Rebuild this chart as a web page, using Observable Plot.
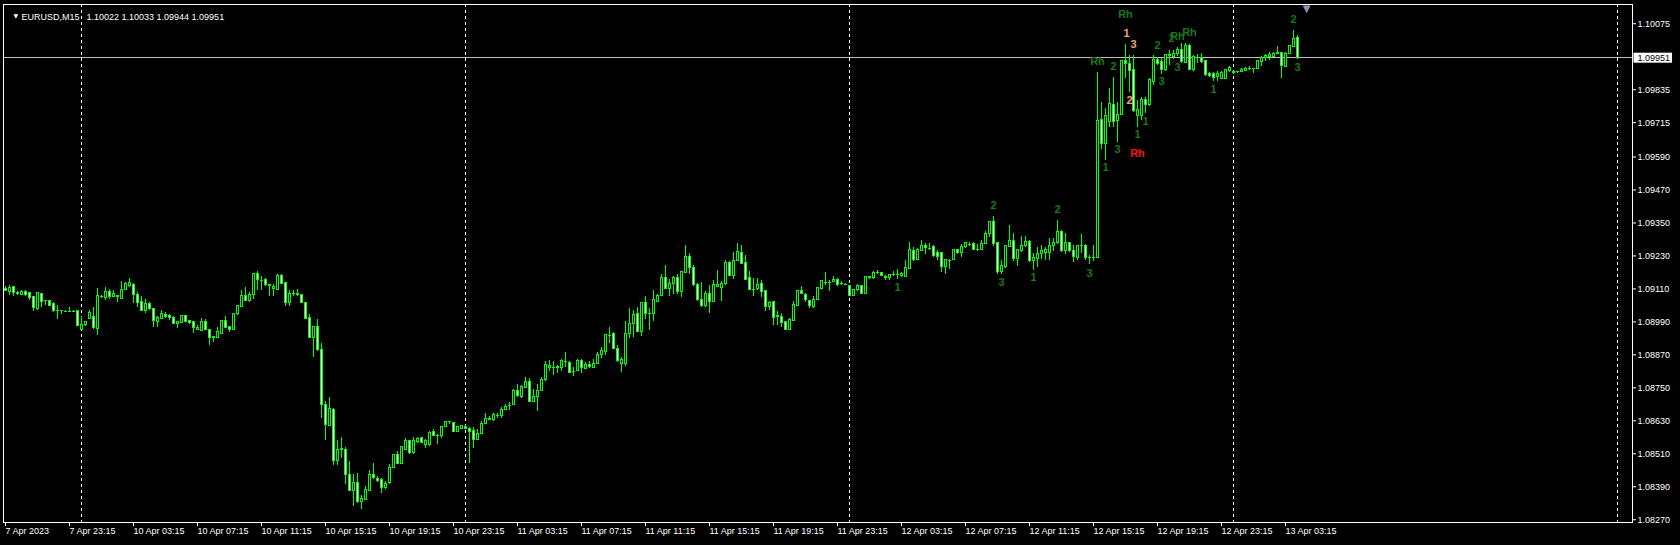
<!DOCTYPE html>
<html><head><meta charset="utf-8">
<script src="https://cdn.jsdelivr.net/npm/d3@7"></script>
<script src="https://cdn.jsdelivr.net/npm/@observablehq/plot@0.6"></script>
<style>html,body{margin:0;padding:0;background:#000;overflow:hidden}</style>
</head><body><div id="chart"></div>
<script>
const symbol = "EURUSD", timeframe = "M15";

const opens = [
1.09111,1.09098,1.09116,1.09095,1.09089,1.09100,1.09094,1.09081,1.09038,1.09090,
1.09065,1.09066,1.09056,1.09030,1.09030,1.09028,1.09028,1.09028,1.09028,1.08959,
1.08977,1.09002,1.09006,1.08965,1.09082,1.09078,1.09099,1.09081,1.09083,1.09075,
1.09106,1.09120,1.09123,1.09088,1.09061,1.09031,1.09055,1.09036,1.08991,1.09002,
1.09015,1.09010,1.09003,1.08981,1.08986,1.09011,1.08993,1.08988,1.08959,1.08957,
1.08989,1.08959,1.08932,1.08932,1.08947,1.08993,1.08971,1.08960,1.09017,1.09045,
1.09084,1.09066,1.09087,1.09163,1.09142,1.09143,1.09123,1.09108,1.09106,1.09157,
1.09131,1.09058,1.09092,1.09090,1.09088,1.09059,1.09003,1.08932,1.08971,1.08886,
1.08689,1.08612,1.08670,1.08484,1.08523,1.08525,1.08433,1.08375,1.08405,1.08334,
1.08342,1.08376,1.08433,1.08420,1.08415,1.08385,1.08403,1.08458,1.08506,1.08472,
1.08525,1.08555,1.08513,1.08553,1.08567,1.08543,1.08541,1.08588,1.08576,1.08575,
1.08609,1.08626,1.08622,1.08590,1.08600,1.08609,1.08602,1.08594,1.08560,1.08582,
1.08620,1.08634,1.08633,1.08650,1.08649,1.08669,1.08684,1.08689,1.08740,1.08717,
1.08750,1.08773,1.08699,1.08716,1.08738,1.08779,1.08823,1.08823,1.08824,1.08823,
1.08845,1.08842,1.08811,1.08811,1.08849,1.08820,1.08832,1.08823,1.08837,1.08871,
1.08881,1.08942,1.08945,1.08893,1.08837,1.08837,1.08947,1.08981,1.09017,1.08953,
1.09057,1.09020,1.09020,1.09064,1.09083,1.09149,1.09111,1.09127,1.09149,1.09100,
1.09169,1.09227,1.09185,1.09124,1.09071,1.09047,1.09090,1.09064,1.09117,1.09115,
1.09127,1.09205,1.09157,1.09212,1.09240,1.09203,1.09149,1.09109,1.09111,1.09127,
1.09101,1.09045,1.09061,1.09008,1.09009,1.08988,1.08960,1.08993,1.09049,1.09103,
1.09088,1.09066,1.09044,1.09071,1.09111,1.09135,1.09135,1.09135,1.09141,1.09128,
1.09127,1.09120,1.09085,1.09106,1.09120,1.09091,1.09149,1.09149,1.09168,1.09168,
1.09155,1.09149,1.09161,1.09161,1.09156,1.09154,1.09184,1.09248,1.09216,1.09249,
1.09266,1.09258,1.09261,1.09242,1.09240,1.09188,1.09214,1.09214,1.09251,1.09239,
1.09261,1.09273,1.09275,1.09255,1.09252,1.09273,1.09309,1.09353,1.09276,1.09173,
1.09190,1.09264,1.09284,1.09218,1.09248,1.09265,1.09281,1.09211,1.09220,1.09237,
1.09239,1.09239,1.09266,1.09278,1.09318,1.09247,1.09277,1.09249,1.09222,1.09267,
1.09267,1.09222,1.09221,1.09221,1.09723,1.09638,1.09717,1.09780,1.09721,1.09744,
1.09940,1.09930,1.09906,1.09739,1.09741,1.09798,1.09778,1.09863,1.09944,1.09935,
1.09906,1.09957,1.09954,1.09966,1.09979,1.09932,1.09993,1.09906,1.09951,1.09952,
1.09938,1.09891,1.09893,1.09881,1.09875,1.09875,1.09903,1.09899,1.09898,1.09901,
1.09904,1.09912,1.09912,1.09912,1.09936,1.09951,1.09954,1.09954,1.09966,1.09970,
1.09918,1.09966,1.09991,1.10022];

const highs = [
1.09118,1.09121,1.09117,1.09100,1.09103,1.09103,1.09096,1.09084,1.09096,1.09093,
1.09068,1.09066,1.09060,1.09051,1.09033,1.09030,1.09044,1.09030,1.09030,1.09011,
1.08991,1.09030,1.09042,1.09110,1.09087,1.09114,1.09109,1.09103,1.09084,1.09137,
1.09133,1.09148,1.09129,1.09096,1.09084,1.09070,1.09060,1.09036,1.09011,1.09030,
1.09026,1.09017,1.09008,1.08993,1.09015,1.09015,1.08996,1.08993,1.08977,1.09003,
1.08997,1.08959,1.08938,1.08969,1.08996,1.09011,1.08975,1.09020,1.09051,1.09103,
1.09115,1.09096,1.09167,1.09172,1.09154,1.09149,1.09127,1.09125,1.09163,1.09163,
1.09133,1.09103,1.09103,1.09109,1.09090,1.09060,1.09017,1.08975,1.08999,1.08913,
1.08701,1.08716,1.08674,1.08557,1.08570,1.08533,1.08482,1.08433,1.08439,1.08360,
1.08391,1.08448,1.08476,1.08427,1.08421,1.08409,1.08470,1.08509,1.08518,1.08537,
1.08567,1.08559,1.08571,1.08570,1.08571,1.08561,1.08592,1.08598,1.08579,1.08610,
1.08628,1.08628,1.08624,1.08610,1.08613,1.08612,1.08606,1.08604,1.08598,1.08628,
1.08656,1.08646,1.08658,1.08658,1.08677,1.08689,1.08697,1.08744,1.08762,1.08759,
1.08789,1.08784,1.08744,1.08764,1.08789,1.08847,1.08849,1.08847,1.08831,1.08853,
1.08877,1.08847,1.08825,1.08853,1.08853,1.08841,1.08845,1.08853,1.08877,1.08898,
1.08942,1.08971,1.08953,1.08905,1.08859,1.08993,1.09039,1.09032,1.09044,1.09062,
1.09081,1.09039,1.09103,1.09088,1.09161,1.09197,1.09145,1.09154,1.09163,1.09173,
1.09267,1.09240,1.09197,1.09129,1.09135,1.09100,1.09123,1.09141,1.09178,1.09137,
1.09214,1.09210,1.09241,1.09276,1.09267,1.09230,1.09172,1.09149,1.09149,1.09141,
1.09105,1.09066,1.09066,1.09027,1.09020,1.08993,1.09003,1.09064,1.09105,1.09117,
1.09094,1.09068,1.09081,1.09115,1.09141,1.09168,1.09141,1.09154,1.09149,1.09137,
1.09129,1.09121,1.09109,1.09127,1.09122,1.09157,1.09156,1.09172,1.09176,1.09169,
1.09160,1.09163,1.09173,1.09182,1.09169,1.09212,1.09278,1.09261,1.09256,1.09285,
1.09275,1.09275,1.09267,1.09251,1.09242,1.09218,1.09217,1.09255,1.09255,1.09270,
1.09279,1.09279,1.09279,1.09270,1.09287,1.09318,1.09356,1.09373,1.09279,1.09212,
1.09269,1.09339,1.09313,1.09255,1.09300,1.09300,1.09285,1.09239,1.09261,1.09267,
1.09261,1.09292,1.09292,1.09358,1.09322,1.09310,1.09277,1.09267,1.09267,1.09307,
1.09271,1.09231,1.09267,1.09899,1.09790,1.09766,1.09839,1.09879,1.09790,1.09942,
1.09999,1.09960,1.09960,1.09796,1.09806,1.09808,1.09875,1.09960,1.09952,1.09948,
1.09964,1.09976,1.09976,1.09988,1.10003,1.10003,1.10000,1.09960,1.09964,1.09966,
1.09940,1.09896,1.09897,1.09900,1.09903,1.09908,1.09920,1.09903,1.09903,1.09912,
1.09914,1.09920,1.09913,1.09942,1.09954,1.09964,1.09969,1.09969,1.09993,1.09972,
1.09972,1.09997,1.10051,1.10033];

const lows = [
1.09100,1.09087,1.09081,1.09087,1.09087,1.09083,1.09068,1.09027,1.09032,1.09042,
1.09048,1.09045,1.09026,1.08998,1.09017,1.09027,1.09027,1.09027,1.08976,1.08957,
1.08975,1.09000,1.08963,1.08942,1.09075,1.09068,1.09071,1.09078,1.09060,1.09071,
1.09103,1.09115,1.09056,1.09042,1.09030,1.09020,1.09030,1.08969,1.08969,1.08998,
1.09002,1.08996,1.08981,1.08965,1.08983,1.08988,1.08981,1.08947,1.08957,1.08955,
1.08957,1.08904,1.08914,1.08929,1.08944,1.08966,1.08950,1.08959,1.09015,1.09044,
1.09064,1.09060,1.09070,1.09105,1.09105,1.09120,1.09084,1.09082,1.09105,1.09125,
1.09045,1.09045,1.09084,1.09084,1.09058,1.08997,1.08930,1.08859,1.08884,1.08638,
1.08560,1.08610,1.08466,1.08467,1.08492,1.08397,1.08373,1.08320,1.08330,1.08308,
1.08342,1.08375,1.08415,1.08407,1.08367,1.08379,1.08399,1.08458,1.08470,1.08472,
1.08522,1.08509,1.08506,1.08549,1.08547,1.08531,1.08537,1.08573,1.08545,1.08567,
1.08604,1.08618,1.08589,1.08588,1.08598,1.08598,1.08476,1.08531,1.08557,1.08579,
1.08618,1.08632,1.08626,1.08638,1.08640,1.08667,1.08669,1.08686,1.08716,1.08713,
1.08747,1.08697,1.08695,1.08665,1.08735,1.08772,1.08811,1.08796,1.08801,1.08808,
1.08825,1.08801,1.08792,1.08808,1.08804,1.08817,1.08819,1.08819,1.08835,1.08857,
1.08869,1.08910,1.08890,1.08841,1.08805,1.08829,1.08930,1.08935,1.08950,1.08938,
1.08999,1.08957,1.08993,1.09060,1.09081,1.09109,1.09084,1.09088,1.09091,1.09078,
1.09166,1.09163,1.09117,1.09066,1.09044,1.09042,1.09020,1.09061,1.09115,1.09066,
1.09124,1.09154,1.09143,1.09210,1.09200,1.09141,1.09105,1.09084,1.09105,1.09078,
1.09027,1.09030,1.08978,1.08978,1.08969,1.08957,1.08959,1.08991,1.09048,1.09088,
1.09061,1.09039,1.09039,1.09068,1.09109,1.09123,1.09100,1.09132,1.09117,1.09121,
1.09123,1.09084,1.09083,1.09100,1.09088,1.09088,1.09145,1.09146,1.09161,1.09154,
1.09139,1.09141,1.09157,1.09145,1.09151,1.09151,1.09180,1.09210,1.09214,1.09246,
1.09236,1.09249,1.09224,1.09212,1.09169,1.09163,1.09182,1.09212,1.09236,1.09224,
1.09257,1.09264,1.09248,1.09245,1.09248,1.09270,1.09297,1.09263,1.09163,1.09161,
1.09185,1.09261,1.09208,1.09190,1.09242,1.09261,1.09206,1.09178,1.09188,1.09218,
1.09212,1.09212,1.09247,1.09273,1.09243,1.09234,1.09243,1.09206,1.09215,1.09239,
1.09212,1.09200,1.09210,1.09219,1.09616,1.09579,1.09696,1.09696,1.09644,1.09741,
1.09875,1.09823,1.09753,1.09699,1.09723,1.09747,1.09774,1.09851,1.09924,1.09891,
1.09903,1.09924,1.09944,1.09954,1.09932,1.09930,1.09906,1.09903,1.09930,1.09932,
1.09884,1.09879,1.09863,1.09863,1.09871,1.09871,1.09899,1.09891,1.09893,1.09896,
1.09901,1.09906,1.09893,1.09908,1.09921,1.09936,1.09942,1.09952,1.09964,1.09875,
1.09915,1.09964,1.09988,1.09944];

const closes = [
1.09103,1.09113,1.09096,1.09093,1.09100,1.09089,1.09078,1.09042,1.09094,1.09064,
1.09066,1.09048,1.09028,1.09031,1.09028,1.09028,1.09028,1.09028,1.08976,1.08978,
1.08988,1.09022,1.08966,1.09084,1.09081,1.09099,1.09081,1.09090,1.09081,1.09105,
1.09128,1.09131,1.09087,1.09058,1.09031,1.09055,1.09036,1.08992,1.09004,1.09019,
1.09008,1.09003,1.08983,1.08989,1.09011,1.08991,1.08987,1.08966,1.08966,1.08989,
1.08959,1.08932,1.08936,1.08952,1.08993,1.08969,1.08960,1.09019,1.09048,1.09084,
1.09066,1.09088,1.09163,1.09142,1.09142,1.09123,1.09121,1.09117,1.09157,1.09129,
1.09058,1.09090,1.09093,1.09088,1.09059,1.09002,1.08932,1.08971,1.08886,1.08689,
1.08616,1.08674,1.08482,1.08525,1.08528,1.08433,1.08375,1.08405,1.08334,1.08345,
1.08379,1.08433,1.08421,1.08412,1.08385,1.08401,1.08460,1.08506,1.08472,1.08533,
1.08555,1.08513,1.08555,1.08565,1.08551,1.08557,1.08587,1.08576,1.08576,1.08607,
1.08627,1.08626,1.08590,1.08606,1.08612,1.08600,1.08591,1.08559,1.08583,1.08620,
1.08638,1.08638,1.08650,1.08650,1.08671,1.08682,1.08685,1.08740,1.08722,1.08752,
1.08773,1.08699,1.08716,1.08740,1.08779,1.08832,1.08828,1.08823,1.08825,1.08847,
1.08845,1.08803,1.08811,1.08849,1.08823,1.08832,1.08825,1.08837,1.08871,1.08884,
1.08941,1.08942,1.08892,1.08849,1.08853,1.08947,1.08981,1.09015,1.08954,1.09057,
1.09017,1.09020,1.09068,1.09083,1.09149,1.09111,1.09127,1.09149,1.09100,1.09171,
1.09227,1.09185,1.09124,1.09071,1.09047,1.09090,1.09064,1.09124,1.09124,1.09127,
1.09205,1.09157,1.09211,1.09244,1.09202,1.09144,1.09107,1.09109,1.09123,1.09100,
1.09045,1.09059,1.09005,1.09011,1.08985,1.08960,1.08997,1.09051,1.09101,1.09091,
1.09068,1.09047,1.09071,1.09112,1.09139,1.09135,1.09135,1.09141,1.09126,1.09128,
1.09127,1.09085,1.09105,1.09120,1.09091,1.09154,1.09154,1.09168,1.09168,1.09156,
1.09149,1.09161,1.09161,1.09161,1.09166,1.09185,1.09251,1.09214,1.09253,1.09266,
1.09258,1.09258,1.09228,1.09227,1.09188,1.09216,1.09214,1.09252,1.09239,1.09263,
1.09276,1.09273,1.09252,1.09255,1.09273,1.09309,1.09353,1.09275,1.09173,1.09193,
1.09265,1.09284,1.09218,1.09251,1.09265,1.09281,1.09211,1.09222,1.09237,1.09249,
1.09253,1.09267,1.09278,1.09316,1.09247,1.09277,1.09247,1.09225,1.09267,1.09266,
1.09222,1.09221,1.09222,1.09720,1.09638,1.09741,1.09784,1.09717,1.09744,1.09938,
1.09930,1.09903,1.09756,1.09760,1.09798,1.09778,1.09869,1.09944,1.09930,1.09906,
1.09960,1.09960,1.09966,1.09979,1.09936,1.09993,1.09908,1.09954,1.09952,1.09936,
1.09887,1.09886,1.09879,1.09891,1.09896,1.09906,1.09914,1.09896,1.09899,1.09908,
1.09912,1.09912,1.09912,1.09938,1.09951,1.09959,1.09960,1.09966,1.09968,1.09921,
1.09966,1.09993,1.10021,1.09951];

// time axis: bar index -> label
const xTickBars = [0,16,32,48,64,80,96,112,128,144,160,176,192,208,224,240,256,272,288,304,320];
const xTickLabels = ["7 Apr 2023","7 Apr 23:15","10 Apr 03:15","10 Apr 07:15","10 Apr 11:15","10 Apr 15:15",
  "10 Apr 19:15","10 Apr 23:15","11 Apr 03:15","11 Apr 07:15","11 Apr 11:15","11 Apr 15:15","11 Apr 19:15",
  "11 Apr 23:15","12 Apr 03:15","12 Apr 07:15","12 Apr 11:15","12 Apr 15:15","12 Apr 19:15","12 Apr 23:15","13 Apr 03:15"];
// day separators (bar index of 00:00 each day)
const separatorBars = [19,115,211,307,403];
// price scale tick labels
const yTickValues = [1.10075,1.09835,1.09715,1.09590,1.09470,1.09350,1.09230,1.09110,1.08990,1.08870,1.08750,1.08630,1.08510,1.08390,1.08270];

// indicator annotations
const markText  = ["1","2","3","1","2","3","Rh","1","2","3","Rh","1","3","2","Rh","1","1","2","3","2","Rh","Rh","3","1","2","3"];
const markBar   = [223,247,249,257,263,271,273,275,277,278,280,280.25,282,281,283,283,285,288,289,291.5,293,296,293,302,322,323];
const markPrice = [1.09114,1.09413,1.09132,1.09150,1.09398,1.09168,1.09939,1.09552,1.09920,1.09617,1.10110,1.10041,1.10001,1.09796,1.09603,1.09672,1.09720,1.09997,1.09866,1.10020,1.10030,1.10044,1.09917,1.09836,1.10092,1.09917];
const markKind  = ["wave","wave","wave","wave","wave","wave","wave","wave","wave","wave","wave","alt","alt","alt","sell","wave","wave","wave","wave","wave","wave","wave","wave","wave","wave","wave"];
const shiftBar = 325.25;

const candles = opens.map((o, i) => ({i, open: o, high: highs[i], low: lows[i], close: closes[i]}));
const marksData = markText.map((t, k) => ({text: t, bar: markBar[k], price: markPrice[k], kind: markKind[k]}));
const last = candles[candles.length - 1];
const fmt = v => v.toFixed(5);
const kindColor = {wave: "#1a781a", alt: "#f2a07e", sell: "#ff1010"};
const lime = "#00ff00";

const chart = Plot.plot({
  width: 1680, height: 545,
  marginLeft: 3, marginRight: 48, marginTop: 4, marginBottom: 23,
  x: {type: "linear", domain: [-0.5, 406.75]},
  y: {type: "linear", domain: [1.0826, 1.10145]},
  style: {background: "#000", color: "#fff", fontFamily: "'Liberation Sans', Arial, sans-serif", fontSize: "9px", overflow: "visible"},
  marks: [
    Plot.ruleX(separatorBars, {x: d => d, stroke: "#fff", strokeDasharray: "3,3", shapeRendering: "crispEdges"}),
    Plot.ruleY([last.close], {y: d => d, stroke: "#c0c0c0", shapeRendering: "crispEdges"}),
    Plot.ruleX(candles, {x: "i", y1: "low", y2: "high", stroke: lime, shapeRendering: "crispEdges"}),
    Plot.rect(candles.filter(d => d.close > d.open), {x1: d => d.i - 0.25, x2: d => d.i + 0.25, y1: "open", y2: "close", fill: "#000", stroke: lime, shapeRendering: "crispEdges"}),
    Plot.rect(candles.filter(d => d.close < d.open), {x1: d => d.i - 0.25, x2: d => d.i + 0.25, y1: "open", y2: "close", fill: "#fff", stroke: lime, shapeRendering: "crispEdges"}),
    Plot.ruleY(candles.filter(d => d.close === d.open), {x1: d => d.i - 0.375, x2: d => d.i + 0.375, y: "open", stroke: lime, shapeRendering: "crispEdges"}),
    ...Object.keys(kindColor).map(k => Plot.text(marksData.filter(m => m.kind === k), {
      x: "bar", y: "price", text: "text", fill: kindColor[k], fontSize: 11, fontWeight: "bold"})),
    Plot.frame({stroke: "#fff", shapeRendering: "crispEdges"}),
    Plot.axisY(yTickValues, {anchor: "right", tickSize: 3, tickPadding: 2, tickFormat: fmt}),
    Plot.axisX(xTickBars, {anchor: "bottom", tickSize: 4, tickPadding: 1, textAnchor: "start",
      tickFormat: d => xTickLabels[xTickBars.indexOf(d)]}),
    Plot.text(["\u25BC"], {frameAnchor: "top-left", dx: 10, dy: 9, fill: "#fff", fontSize: 6, fontFamily: "DejaVu Sans"}),
    Plot.text([`${symbol},${timeframe}`], {frameAnchor: "top-left", dx: 18, dy: 9, textAnchor: "start", fill: "#fff"}),
    Plot.text([[last.open, last.high, last.low, last.close].map(fmt).join(" ")], {frameAnchor: "top-left", dx: 83, dy: 9, textAnchor: "start", fill: "#fff"}),
    Plot.text(["\u25BC"], {x: shiftBar, frameAnchor: "top", dy: 0, fill: "#8a9bb0", fontSize: 10, fontFamily: "DejaVu Sans"}),
    Plot.text([last.close], {y: d => d, text: d => fmt(d), frameAnchor: "right", dx: 5, textAnchor: "start", fill: "#000"})
  ]
});
document.getElementById("chart").appendChild(chart);

// white box behind the current-price label
const priceLabel = fmt(last.close);
const lbl = Array.from(chart.querySelectorAll("text")).find(e => e.textContent === priceLabel);
if (lbl) {
  const b = lbl.getBBox();
  const r = document.createElementNS("http://www.w3.org/2000/svg", "rect");
  r.setAttribute("x", b.x - 4);
  r.setAttribute("y", b.y);
  r.setAttribute("width", b.width + 6);
  r.setAttribute("height", b.height);
  r.setAttribute("fill", "#fff");
  if (lbl.getAttribute("transform")) r.setAttribute("transform", lbl.getAttribute("transform"));
  lbl.parentNode.insertBefore(r, lbl);
}
</script></body></html>
